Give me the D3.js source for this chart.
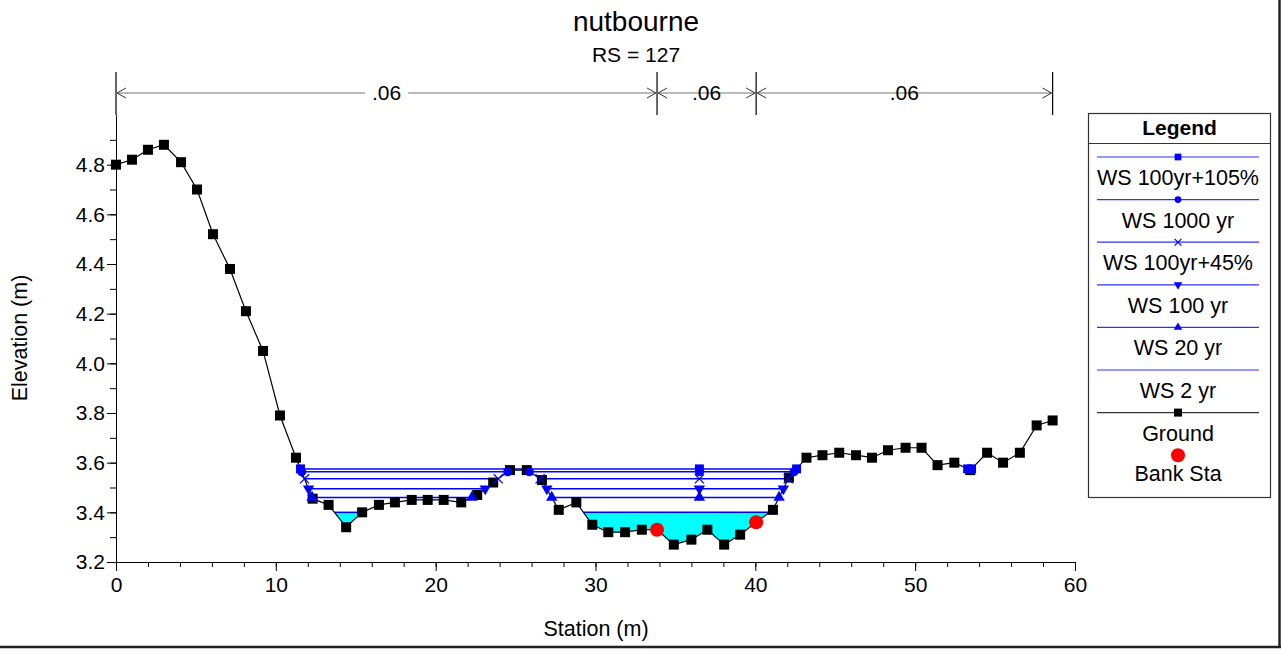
<!DOCTYPE html>
<html>
<head>
<meta charset="utf-8">
<script src="https://cdn.jsdelivr.net/npm/d3@7"></script>
<style>
    body{margin:0;background:#fff;}
    svg{display:block;font-family:"Liberation Sans",Arial,sans-serif;}
    .axis text{font-size:21px;fill:#000;}
    .axis path,.axis line{stroke:#000;}
</style>
</head>
<body>
<div id="chart"></div>
<script>
//地面线数据
var groundSta=[0,1.0,2.0,3.0,4.07,5.07,6.07,7.13,8.13,9.2,10.26,11.26,12.3,13.3,14.4,15.4,16.45,17.45,18.5,19.5,
    20.5,21.6,22.6,23.6,24.65,25.7,26.65,27.7,28.8,29.8,30.8,31.85,32.9,33.85,34.9,36.0,37.0,38.05,39.05,40.05,
    41.1,42.1,43.2,44.2,45.25,46.3,47.3,48.3,49.4,50.4,51.4,52.45,53.45,54.5,55.5,56.55,57.6,58.6];
var groundElev=[4.80,4.82,4.86,4.88,4.81,4.70,4.52,4.38,4.21,4.05,3.79,3.62,3.455,3.43,3.34,3.40,3.43,3.44,3.45,3.45,
    3.45,3.44,3.47,3.52,3.57,3.57,3.53,3.41,3.44,3.35,3.32,3.32,3.33,3.33,3.27,3.29,3.33,3.27,3.31,3.36,
    3.41,3.54,3.62,3.63,3.64,3.63,3.62,3.65,3.66,3.66,3.59,3.60,3.57,3.64,3.60,3.64,3.75,3.77];
//水面线
var profNames=["WS 100yr+105%","WS 1000 yr","WS 100yr+45%","WS 100 yr","WS 20 yr","WS 2 yr"];
var profLevels=[3.575,3.563,3.535,3.495,3.46,3.40];
var profSymbols=["square","circle","cross","down","up",null];
var midMarkSta=36.5;
//岸边
var bankSta=[33.85,40.05];
var bankElev=[3.33,3.36];
//糙率
var nBreaks=[0,33.85,40.05,58.6];
var nValues=[".06",".06",".06"];
var xTicks=[0,10,20,30,40,50,60];
var yTicks=[3.2,3.4,3.6,3.8,4.0,4.2,4.4,4.6,4.8];

var width=1281,height=653;
var plotL=116,plotR=1075,plotT=115,plotB=562;
var svg=d3.select("#chart").append("svg")
    .attr("width",width)
    .attr("height",height);

var x=d3.scaleLinear().domain([0,60]).range([plotL,plotR]);
var y=d3.scaleLinear().domain([3.2,5.0]).range([plotB,plotT]);

var ground=groundSta.map(function (s,i) {
    return {s:s,z:groundElev[i]};
});

//找出低于水位的区段
function wetSegments(level) {
    var segs=[],cur=null;
    for(var i=0;i<ground.length;i++){
        var g=ground[i];
        if(g.z<level){
            if(!cur){
                var p=ground[i-1];
                var s0=p.s+(g.s-p.s)*(p.z-level)/(p.z-g.z);
                cur=[{s:s0,z:level}];
            }
            cur.push(g);
        }else if(cur){
            var q=ground[i-1];
            var s1=q.s+(g.s-q.s)*(level-q.z)/(g.z-q.z);
            cur.push({s:s1,z:level});
            segs.push(cur);
            cur=null;
        }
    }
    return segs;
}

//frame
svg.append("line").attr("x1",0).attr("x2",1281).attr("y1",647).attr("y2",647)
    .attr("stroke","#222").attr("stroke-width",2.5);
svg.append("line").attr("x1",1279.5).attr("x2",1279.5).attr("y1",0).attr("y2",648)
    .attr("stroke","#222").attr("stroke-width",2.5);

//标题
svg.append("text").attr("x",636).attr("y",31).attr("text-anchor","middle")
    .style("font-size","28px").text("nutbourne");
svg.append("text").attr("x",636).attr("y",62).attr("text-anchor","middle")
    .style("font-size","21px").text("RS = 127");

//坐标轴
svg.append("g").attr("class","axis")
    .attr("transform","translate(0,"+plotB+")")
    .call(d3.axisBottom(x).tickValues(d3.range(0,61,2)).tickSize(5).tickSizeOuter(0).tickFormat(""));
svg.append("g").attr("class","axis")
    .attr("transform","translate(0,"+plotB+")")
    .call(d3.axisBottom(x).tickValues(xTicks).tickSize(9).tickPadding(6).tickSizeOuter(0));
svg.append("g").attr("class","axis")
    .attr("transform","translate("+plotL+",0)")
    .call(d3.axisLeft(y).tickValues(d3.range(33,50).map(function (d) {return d/10;})).tickSize(6).tickSizeOuter(0).tickFormat(""));
svg.append("g").attr("class","axis")
    .attr("transform","translate("+plotL+",0)")
    .call(d3.axisLeft(y).tickValues(yTicks).tickSize(9).tickPadding(2).tickSizeOuter(0).tickFormat(d3.format(".1f")));

svg.append("text").attr("x",596).attr("y",636).attr("text-anchor","middle")
    .style("font-size","21.5px").text("Station (m)");
svg.append("text").attr("transform","translate(27,338) rotate(-90)").attr("text-anchor","middle")
    .style("font-size","21.5px").text("Elevation (m)");

//糙率标注
var nY=93;
var ng=svg.append("g");
nBreaks.forEach(function (b) {
    ng.append("line").attr("x1",x(b)).attr("x2",x(b)).attr("y1",72).attr("y2",plotT)
        .attr("stroke","#000").attr("stroke-width",1.2);
});
nValues.forEach(function (v,i) {
    var a=x(nBreaks[i]),b=x(nBreaks[i+1]);
    ng.append("line").attr("x1",a).attr("x2",b).attr("y1",nY).attr("y2",nY)
        .attr("stroke","#777").attr("stroke-width",1.2);
    ng.append("path").attr("d","M"+(a+10)+","+(nY-5)+"L"+(a+1)+","+nY+"L"+(a+10)+","+(nY+5))
        .attr("fill","none").attr("stroke","#333").attr("stroke-width",1);
    ng.append("path").attr("d","M"+(b-10)+","+(nY-5)+"L"+(b-1)+","+nY+"L"+(b-10)+","+(nY+5))
        .attr("fill","none").attr("stroke","#333").attr("stroke-width",1);
    var t=ng.append("text").attr("x",(a+b)/2).attr("y",nY+7).attr("text-anchor","middle")
        .style("font-size","21px").text(v);
    var bb=t.node().getBBox();
    ng.insert("rect","text").attr("x",bb.x-7).attr("y",nY-3).attr("width",bb.width+14).attr("height",6)
        .attr("fill","#fff");
});

var line=d3.line().x(function (d) {return x(d.s);}).y(function (d) {return y(d.z);});

//2年一遇水面填充
wetSegments(profLevels[5]).forEach(function (seg) {
    svg.append("path").attr("d",line(seg)+"Z").attr("fill","#00ffff").attr("stroke","none");
});

//水面线
profLevels.forEach(function (lv) {
    wetSegments(lv).forEach(function (seg) {
        svg.append("line")
            .attr("x1",x(seg[0].s)).attr("x2",x(seg[seg.length-1].s))
            .attr("y1",y(lv)).attr("y2",y(lv))
            .attr("stroke","#0000ff").attr("stroke-width",1.5);
    });
});

//地面线
svg.append("path").datum(ground).attr("d",line)
    .attr("fill","none").attr("stroke","#000").attr("stroke-width",1.2);
svg.append("g").selectAll("rect").data(ground).enter().append("rect")
    .attr("x",function (d) {return x(d.s)-5;})
    .attr("y",function (d) {return y(d.z)-5;})
    .attr("width",10).attr("height",10)
    .attr("fill","#000");

function symbolPath(type,size) {
    if(type=="square") return d3.symbol(d3.symbolSquare,size)();
    if(type=="circle") return d3.symbol(d3.symbolCircle,size*0.8)();
    if(type=="cross") return d3.symbol(d3.symbolTimes,size*0.7)();
    return d3.symbol(d3.symbolTriangle,size*0.7)();
}
function drawSymbol(g,type,cx,cy,size) {
    if(!type) return;
    var p=g.append("path").attr("d",symbolPath(type,size));
    var tr="translate("+cx+","+cy+")";
    if(type=="down") tr+=" rotate(180)";
    p.attr("transform",tr);
    if(type=="cross"){
        p.attr("fill","none").attr("stroke","#0000ff").attr("stroke-width",1.2);
    }else{
        p.attr("fill","#0000ff");
    }
}

//水面线标记
var mg=svg.append("g");
profLevels.forEach(function (lv,i) {
    var type=profSymbols[i];
    wetSegments(lv).forEach(function (seg) {
        var a=seg[0].s,b=seg[seg.length-1].s;
        drawSymbol(mg,type,x(a),y(lv),80);
        drawSymbol(mg,type,x(b),y(lv),80);
        if(a<midMarkSta && b>midMarkSta) drawSymbol(mg,type,x(midMarkSta),y(lv),80);
    });
});

//岸边点
svg.append("g").selectAll("circle").data(bankSta).enter().append("circle")
    .attr("cx",function (d) {return x(d);})
    .attr("cy",function (d,i) {return y(bankElev[i]);})
    .attr("r",7)
    .attr("fill","#ff0000");

//图例
var lg=svg.append("g");
var lx=1088.5,ly=113.5,lw=182,lh=384;
lg.append("rect").attr("x",lx).attr("y",ly).attr("width",lw).attr("height",lh)
    .attr("fill","#fff").attr("stroke","#333").attr("stroke-width",1.2);
lg.append("line").attr("x1",lx).attr("x2",lx+lw).attr("y1",143.5).attr("y2",143.5)
    .attr("stroke","#333").attr("stroke-width",1.2);
lg.append("text").attr("x",lx+lw/2).attr("y",135).attr("text-anchor","middle")
    .style("font-size","21px").style("font-weight","bold").text("Legend");
var rowH=42.6,row0=157,cxL=1178;
profNames.forEach(function (n,i) {
    var yy=row0+i*rowH;
    lg.append("line").attr("x1",1097).attr("x2",1259).attr("y1",yy).attr("y2",yy)
        .attr("stroke","#3030ff").attr("stroke-width",1.2);
    drawSymbol(lg,profSymbols[i],cxL,yy,45);
    lg.append("text").attr("x",cxL).attr("y",yy+28).attr("text-anchor","middle")
        .style("font-size","21.5px").text(n);
});
var gy=row0+6*rowH;
lg.append("line").attr("x1",1097).attr("x2",1259).attr("y1",gy).attr("y2",gy)
    .attr("stroke","#333").attr("stroke-width",1.2);
lg.append("rect").attr("x",cxL-4).attr("y",gy-4).attr("width",8).attr("height",8).attr("fill","#000");
lg.append("text").attr("x",cxL).attr("y",gy+28).attr("text-anchor","middle")
    .style("font-size","21.5px").text("Ground");
var by=row0+7*rowH;
lg.append("circle").attr("cx",cxL).attr("cy",by).attr("r",7).attr("fill","#ff0000");
lg.append("text").attr("x",cxL).attr("y",by+26).attr("text-anchor","middle")
    .style("font-size","21.5px").text("Bank Sta");
</script>
</body>
</html>
